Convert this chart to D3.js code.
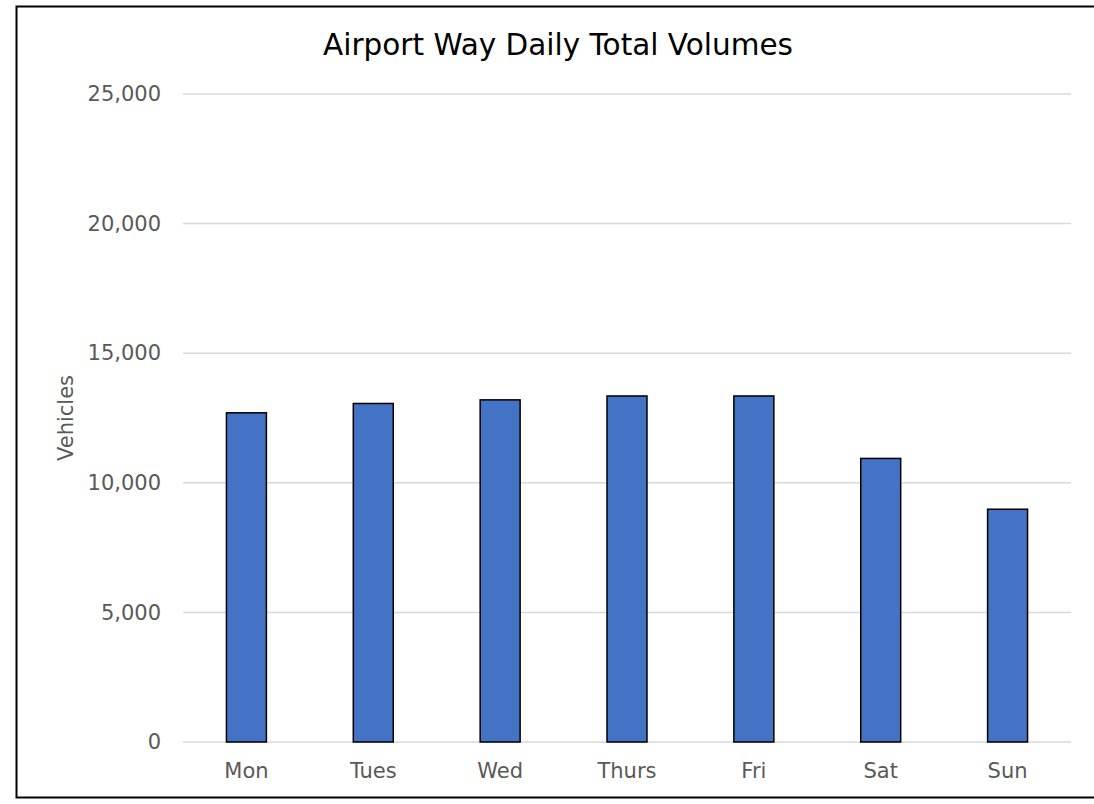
<!DOCTYPE html>
<html>
<head>
<meta charset="utf-8">
<script src="https://cdn.jsdelivr.net/npm/d3@7"></script>
<style>
  body { margin: 0; background: #fff; }
  text { font-family: "DejaVu Sans", Verdana, sans-serif; }
</style>
</head>
<body>
<div id="viz"></div>
<script>
// Data.
var days = ["Mon", "Tues", "Wed", "Thurs", "Fri", "Sat", "Sun"];
var volumes = [12700, 13060, 13200, 13350, 13350, 10940, 8980];
var yTicks = [0, 5000, 10000, 15000, 20000, 25000];

var width = 1094, height = 804;
var plotL = 183, plotR = 1071, plotT = 94, plotB = 742;

var svg = d3.select("#viz")
	.append("svg")
	.attr("width", width)
	.attr("height", height);

// Frame.
svg.append("path")
	.attr("d", "M1100,6.5 H16.5 V797.5 H1100")
	.style("fill", "none")
	.style("stroke", "black")
	.style("stroke-width", 2);

var x = d3.scaleBand()
	.domain(days)
	.range([plotL, plotR])
	.paddingInner(0.685)
	.paddingOuter(0.3425);

var y = d3.scaleLinear()
	.domain([0, 25000])
	.range([plotB, plotT]);

// Grid.
svg.selectAll("line.grid")
	.data(yTicks)
	.enter().append("line")
	.attr("class", "grid")
	.attr("x1", plotL)
	.attr("x2", plotR)
	.attr("y1", function(d) { return y(d); })
	.attr("y2", function(d) { return y(d); })
	.style("stroke", "#d9d9d9")
	.style("stroke-width", 1.5);

// Y axis labels.
var yAxis = svg.append("g")
	.attr("transform", "translate(" + plotL + ",0)")
	.call(d3.axisLeft(y).tickValues(yTicks).tickSize(0).tickPadding(22).tickFormat(d3.format(",")));
yAxis.select(".domain").remove();
yAxis.selectAll("text")
	.style("font-size", "21px")
	.style("fill", "#595959")
	.style("font-family", "DejaVu Sans");

// Bars.
svg.selectAll("rect.bar")
	.data(volumes)
	.enter().append("rect")
	.attr("class", "bar")
	.attr("x", function(d, i) { return x(days[i]); })
	.attr("y", function(d) { return y(d); })
	.attr("width", x.bandwidth())
	.attr("height", function(d) { return y(0) - y(d); })
	.style("fill", "#4472c4")
	.style("stroke", "black")
	.style("stroke-width", 1.5);

// X axis labels.
var xAxis = svg.append("g")
	.attr("transform", "translate(0," + plotB + ")")
	.call(d3.axisBottom(x).tickSize(0).tickPadding(21));
xAxis.select(".domain").remove();
xAxis.selectAll("text")
	.style("font-size", "21px")
	.style("fill", "#595959")
	.style("font-family", "DejaVu Sans");

// Axis title.
svg.append("text")
	.attr("transform", "translate(73," + ((plotT + plotB) / 2) + ") rotate(-90)")
	.attr("text-anchor", "middle")
	.style("font-size", "21px")
	.style("fill", "#595959")
	.text("Vehicles");

// Chart title.
svg.append("text")
	.attr("x", 558)
	.attr("y", 55)
	.attr("text-anchor", "middle")
	.style("font-size", "29.5px")
	.style("fill", "black")
	.text("Airport Way Daily Total Volumes");
</script>
</body>
</html>
